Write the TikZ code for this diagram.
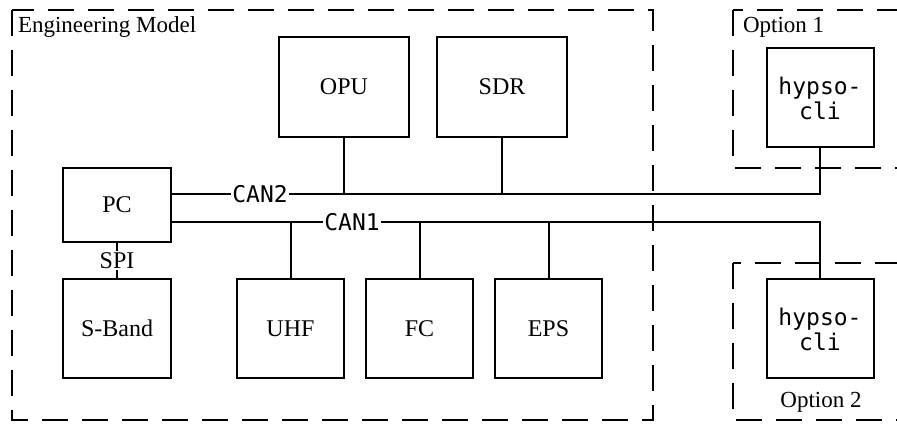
\documentclass[tikz,border=0pt]{standalone}
\usepackage{fontspec}
\setmainfont{Liberation Serif}
\setmonofont{DejaVu Sans Mono}
\usetikzlibrary{positioning}
\tikzset{
  every picture/.style={line width=2pt},
  box/.style={draw, line width=2pt, minimum width=107pt, minimum height=99pt, inner sep=2pt, align=center, font=\fontsize{24}{26}\selectfont},
  cli/.style={box, font=\ttfamily\fontsize{23}{25}\selectfont},
  group/.style={draw, line width=2.6pt, dash pattern=on 26pt off 14pt},
  bus/.style={draw, line width=2pt},
  buslabel/.style={fill=white, inner sep=1pt, font=\ttfamily\fontsize{23}{25}\selectfont},
  note/.style={font=\fontsize{23}{25}\selectfont, inner sep=0pt},
}

\begin{document}
\begin{tikzpicture}[x=1pt, y=-1pt, node distance=20pt]
  \path[use as bounding box, clip] (0,0) rectangle (897,427);
  \draw[group] (12,10) rectangle (653,420);
  \draw[group] (733,10) rectangle (920,168);
  \draw[group] (733,263) rectangle (920,420);
  \node[note, anchor=base west] (em) at (17,33) {Engineering Model};
  \node[note, anchor=base west] (o1) at (742,33) {Option 1};
  \node[note, anchor=base] (o2) at (821,408) {Option 2};

  \node[box, minimum width=130pt, minimum height=100pt] (opu) at (344,87) {OPU};
  \node[box, minimum width=130pt, minimum height=100pt, right=26pt of opu] (sdr) {SDR};
  \node[box, minimum width=108pt, minimum height=74pt] (pc) at (117,205) {PC};
  \node[box, minimum width=108pt, below=35pt of pc] (sband) {S-Band};
  \node[box, right=64pt of sband] (uhf) {UHF};
  \node[box, right=of uhf] (fc) {FC};
  \node[box, right=of fc] (eps) {EPS};
  \node[cli] (cli1) at (820,98) {hypso-\\cli};
  \node[cli] (cli2) at (820,329) {hypso-\\cli};

  \coordinate (can2) at ([yshift=11pt]pc.east);
  \coordinate (can1) at ([yshift=-17pt]pc.east);
  \draw[bus] (can2) -| (cli1.south);
  \draw[bus] (can1) -| (cli2.north);
  \foreach \n in {opu,sdr} \draw[bus] (\n.south) -- (\n.south |- can2);
  \foreach \n in {uhf,fc,eps} \draw[bus] (\n.north) -- (\n.north |- can1);
  \draw[bus] (pc.south) -- node[buslabel, font=\fontsize{24}{26}\selectfont] (spi) {SPI} (sband.north);
  \node[buslabel] (l2) at (260,194) {CAN2};
  \node[buslabel] (l1) at (352,222) {CAN1};
\end{tikzpicture}
\end{document}
